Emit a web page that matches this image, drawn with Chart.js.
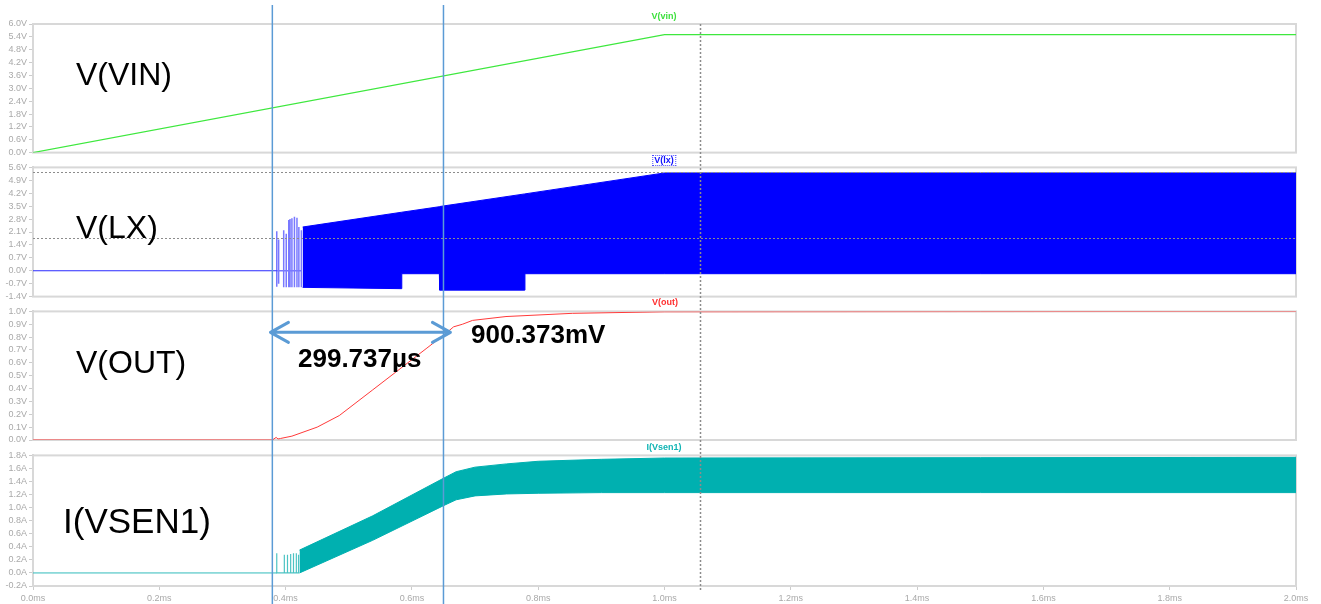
<!DOCTYPE html>
<html>
<head>
<meta charset="utf-8">
<script src="https://cdn.jsdelivr.net/npm/chart.js@4.4.1/dist/chart.umd.min.js"></script>
<style>
  html, body { margin: 0; padding: 0; background: #fff; }
  #wrap { position: relative; width: 1321px; height: 604px; overflow: hidden; font-family: "Liberation Sans", Arial, sans-serif; }
  #wrap canvas { position: absolute; left: 0; }
  .big { position: absolute; font-size: 32px; color: #000; line-height: 1; white-space: nowrap; }
  .trace { position: absolute; font-size: 9px; font-weight: bold; line-height: 1; transform: translateX(-50%); white-space: nowrap; }
  .meas { position: absolute; font-size: 26px; font-weight: bold; line-height: 1; color: #000; white-space: nowrap; }
</style>
</head>
<body>
<div id="wrap">
  <canvas id="pVin" width="1321" height="160" style="top:0"></canvas>
  <canvas id="pLx" width="1321" height="144" style="top:160px"></canvas>
  <canvas id="pOut" width="1321" height="144" style="top:304px"></canvas>
  <canvas id="pSen" width="1321" height="156" style="top:448px"></canvas>

  <div class="big" style="left:76px; top:58px">V(VIN)</div>
  <div class="big" style="left:76px; top:211px">V(LX)</div>
  <div class="big" style="left:76px; top:346px">V(OUT)</div>
  <div class="big" style="left:63px; top:503px; font-size:35px">I(VSEN1)</div>

  <div class="trace" style="left:664px; top:12px; color:#3ee03e">V(vin)</div>
  <div class="trace" style="left:664px; top:155px; color:#1010ff; border:1px dotted #5050ff; padding:0 1px">V(lx)</div>
  <div class="trace" style="left:665px; top:298px; color:#ff3030">V(out)</div>
  <div class="trace" style="left:664px; top:443px; color:#10b4b4">I(Vsen1)</div>

  <div class="meas" style="left:298px; top:345px">299.737µs</div>
  <div class="meas" style="left:471px; top:321px">900.373mV</div>
</div>
<script>
// axis ticks
const timeTicks = [0, 0.2, 0.4, 0.6, 0.8, 1.0, 1.2, 1.4, 1.6, 1.8, 2.0];
const vinTicks = [0, 0.6, 1.2, 1.8, 2.4, 3.0, 3.6, 4.2, 4.8, 5.4, 6.0];
const lxTicks = [-1.4, -0.7, 0, 0.7, 1.4, 2.1, 2.8, 3.5, 4.2, 4.9, 5.6];
const voutTicks = [0, 0.1, 0.2, 0.3, 0.4, 0.5, 0.6, 0.7, 0.8, 0.9, 1.0];
const isenTicks = [-0.2, 0, 0.2, 0.4, 0.6, 0.8, 1.0, 1.2, 1.4, 1.6, 1.8];

// V(vin): ramp to 5.5 V over 1 ms
const vinTime = [0, 1.0, 2.0];
const vinVolt = [0, 5.5, 5.5];

// V(lx): idle, first switching pulses, then the switching envelope
const lxIdleTime = [0, 0.386];
const lxIdleVolt = [0, 0];
const lxSpikeTime = [0.386, 0.389, 0.397, 0.401, 0.405, 0.407, 0.410, 0.414, 0.418, 0.421, 0.425];
const lxSpikeHigh = [2.14, 1.70, 2.20, 2.00, 2.75, 2.80, 2.85, 2.92, 2.87, 2.37, 2.20];
const lxSpikeLow = [-0.86, -0.70, -0.90, -0.90, -0.90, -0.90, -0.90, -0.90, -0.90, -0.90, -0.90];
const lxBandTime = [0.427, 0.5835, 0.584, 0.6435, 0.644, 0.778, 0.779, 1.0, 2.0];
const lxBandHigh = [2.37, 3.17, 3.17, 3.47, 3.48, 4.16, 4.16, 5.30, 5.30];
const lxBandLow = [-0.90, -0.97, -0.16, -0.16, -1.05, -1.05, -0.16, -0.16, -0.16];

// V(out): soft-start ramp
const voutTime = [0, 0.379, 0.385, 0.388, 0.392, 0.410, 0.450, 0.485, 0.538, 0.575, 0.6225, 0.654, 0.666, 0.680, 0.696, 0.749, 0.854, 1.0, 2.0];
const voutVolt = [0, 0, 0.02, 0.008, 0.012, 0.03, 0.10, 0.19, 0.39, 0.53, 0.71, 0.83, 0.88, 0.90, 0.93, 0.96, 0.985, 0.997, 1.0];

// I(Vsen1): inductor current ripple envelope
const isenIdleTime = [0, 0.386];
const isenIdleAmp = [0, 0];
const isenSpikeTime = [0.386, 0.398, 0.403, 0.408, 0.4125, 0.417, 0.4205];
const isenSpikeHigh = [0.30, 0.28, 0.28, 0.29, 0.30, 0.30, 0.28];
const isenBandTime = [0.422, 0.538, 0.650, 0.670, 0.700, 0.750, 0.800, 0.900, 1.0, 2.0];
const isenBandHigh = [0.35, 0.875, 1.45, 1.55, 1.62, 1.67, 1.71, 1.74, 1.76, 1.77];
const isenBandLow = [0.00, 0.50, 1.03, 1.12, 1.18, 1.21, 1.22, 1.23, 1.23, 1.23];

// cursors and marker
const cursorTimes = [0.379, 0.650];
const arrowSpan = [0.376, 0.661];
const arrowLevel = 0.837;
const markerTime = 1.057;
const lxRefLevels = [5.33, 1.78];

const pts = (xs, ys) => xs.map((x, i) => ({ x, y: ys[i] }));

function spikes(times, highs, lows, base) {
  const out = [];
  times.forEach((t, i) => {
    out.push({ x: t, y: base }, { x: t, y: highs[i] }, { x: t, y: lows[i] }, { x: t, y: base });
  });
  return out;
}

const fmt = v => (Math.abs(v) < 1e-9 ? 0 : v).toFixed(1);

function yAxis(ticks, unit) {
  return {
    type: 'linear',
    min: ticks[0],
    max: ticks[ticks.length - 1],
    afterBuildTicks: s => { s.ticks = ticks.map(v => ({ value: v })); },
    afterFit: s => { s.width = 33; },
    ticks: {
      autoSkip: false,
      padding: 2,
      color: '#a9a9a9',
      font: { size: 9, family: 'Liberation Sans' },
      callback: v => fmt(v) + unit
    },
    grid: { drawOnChartArea: false, drawTicks: true, tickLength: 4, color: '#cccccc' },
    border: { display: true, color: '#d4d4d4', width: 2 }
  };
}

function xAxis(show) {
  return {
    type: 'linear',
    min: 0,
    max: 2,
    display: show,
    afterBuildTicks: s => { s.ticks = timeTicks.map(v => ({ value: v })); },
    afterFit: s => { s.height = show ? 18 : 0; },
    ticks: {
      autoSkip: false,
      maxRotation: 0,
      padding: 3,
      color: '#a9a9a9',
      font: { size: 9, family: 'Liberation Sans' },
      callback: v => fmt(v) + 'ms'
    },
    grid: { drawOnChartArea: false, drawTicks: true, tickLength: 4, color: '#cccccc' },
    border: { display: true, color: '#d4d4d4', width: 2 }
  };
}

// panel frame, reference lines, cursors and the delta arrow
const overlay = {
  id: 'overlay',
  beforeDatasetsDraw(chart) {
    const { ctx, chartArea: a } = chart;
    ctx.save();
    ctx.strokeStyle = '#d8d8d8';
    ctx.lineWidth = 2;
    ctx.strokeRect(a.left, a.top, a.right - a.left, a.bottom - a.top);
    ctx.restore();
  },
  afterDatasetsDraw(chart, args, o) {
    const { ctx, chartArea: a } = chart;
    const xs = chart.scales.x, ys = chart.scales.y;
    ctx.save();

    ctx.strokeStyle = '#8c8c8c';
    ctx.lineWidth = 1;
    ctx.setLineDash([2, 2]);
    (o.refLevels || []).forEach(v => {
      const y = Math.round(ys.getPixelForValue(v)) + 0.5;
      ctx.beginPath(); ctx.moveTo(a.left, y); ctx.lineTo(a.right, y); ctx.stroke();
    });

    ctx.lineWidth = 1.5;
    const mx = Math.round(xs.getPixelForValue(markerTime)) + 0.5;
    ctx.beginPath();
    ctx.moveTo(mx, o.first ? a.top : 0);
    ctx.lineTo(mx, o.last ? a.bottom + 5 : chart.height);
    ctx.stroke();

    ctx.setLineDash([]);
    ctx.strokeStyle = '#5b9bd5';
    ctx.lineWidth = 1.5;
    cursorTimes.forEach(t => {
      const x = xs.getPixelForValue(t);
      ctx.beginPath();
      ctx.moveTo(x, o.first ? 5 : 0);
      ctx.lineTo(x, chart.height);
      ctx.stroke();
    });

    if (o.arrow) {
      const y = ys.getPixelForValue(arrowLevel);
      const x0 = xs.getPixelForValue(arrowSpan[0]);
      const x1 = xs.getPixelForValue(arrowSpan[1]);
      ctx.lineWidth = 3;
      ctx.lineCap = 'round';
      ctx.lineJoin = 'round';
      ctx.beginPath();
      ctx.moveTo(x0, y); ctx.lineTo(x1, y);
      ctx.moveTo(x0 + 18, y - 10); ctx.lineTo(x0, y); ctx.lineTo(x0 + 18, y + 10);
      ctx.moveTo(x1 - 18, y - 10); ctx.lineTo(x1, y); ctx.lineTo(x1 - 18, y + 10);
      ctx.stroke();
    }
    ctx.restore();
  }
};

function line(data, color, width, extra) {
  return Object.assign({
    data,
    borderColor: color,
    borderWidth: width,
    pointRadius: 0,
    fill: false,
    tension: 0
  }, extra || {});
}

function panel(id, datasets, yCfg, pad, opts) {
  return new Chart(document.getElementById(id), {
    type: 'line',
    data: { datasets },
    plugins: [overlay],
    options: {
      responsive: false,
      animation: false,
      events: [],
      layout: { padding: { left: 0, right: 25, top: pad[0], bottom: pad[1] } },
      scales: { x: xAxis(!!opts.last), y: yCfg },
      plugins: { legend: { display: false }, tooltip: { enabled: false }, overlay: opts }
    }
  });
}

panel('pVin', [
  line(pts(vinTime, vinVolt), '#3ee83e', 1.2)
], yAxis(vinTicks, 'V'), [24, 7], { first: true });

panel('pLx', [
  line(pts(lxBandTime, lxBandHigh), '#0000ff', 1),
  line(pts(lxBandTime, lxBandLow), '#0000ff', 1, { fill: '-1', backgroundColor: '#0000ff' }),
  line(pts(lxIdleTime, lxIdleVolt), '#2a2aff', 1),
  line(spikes(lxSpikeTime, lxSpikeHigh, lxSpikeLow, 0), 'rgba(30,30,255,0.6)', 1.5)
], yAxis(lxTicks, 'V'), [7, 7], { refLevels: lxRefLevels });

panel('pOut', [
  line(pts(voutTime, voutVolt), '#ff3a3a', 1)
], yAxis(voutTicks, 'V'), [7, 8], { arrow: true });

panel('pSen', [
  line(pts(isenBandTime, isenBandHigh), '#00b0b0', 1),
  line(pts(isenBandTime, isenBandLow), '#00b0b0', 1, { fill: '-1', backgroundColor: '#00b0b0' }),
  line(pts(isenIdleTime, isenIdleAmp), '#30bcbc', 1),
  line(spikes(isenSpikeTime, isenSpikeHigh, isenSpikeTime.map(() => 0), 0), 'rgba(0,170,170,0.7)', 1.2)
], yAxis(isenTicks, 'A'), [6, 0], { last: true });
</script>
</body>
</html>
